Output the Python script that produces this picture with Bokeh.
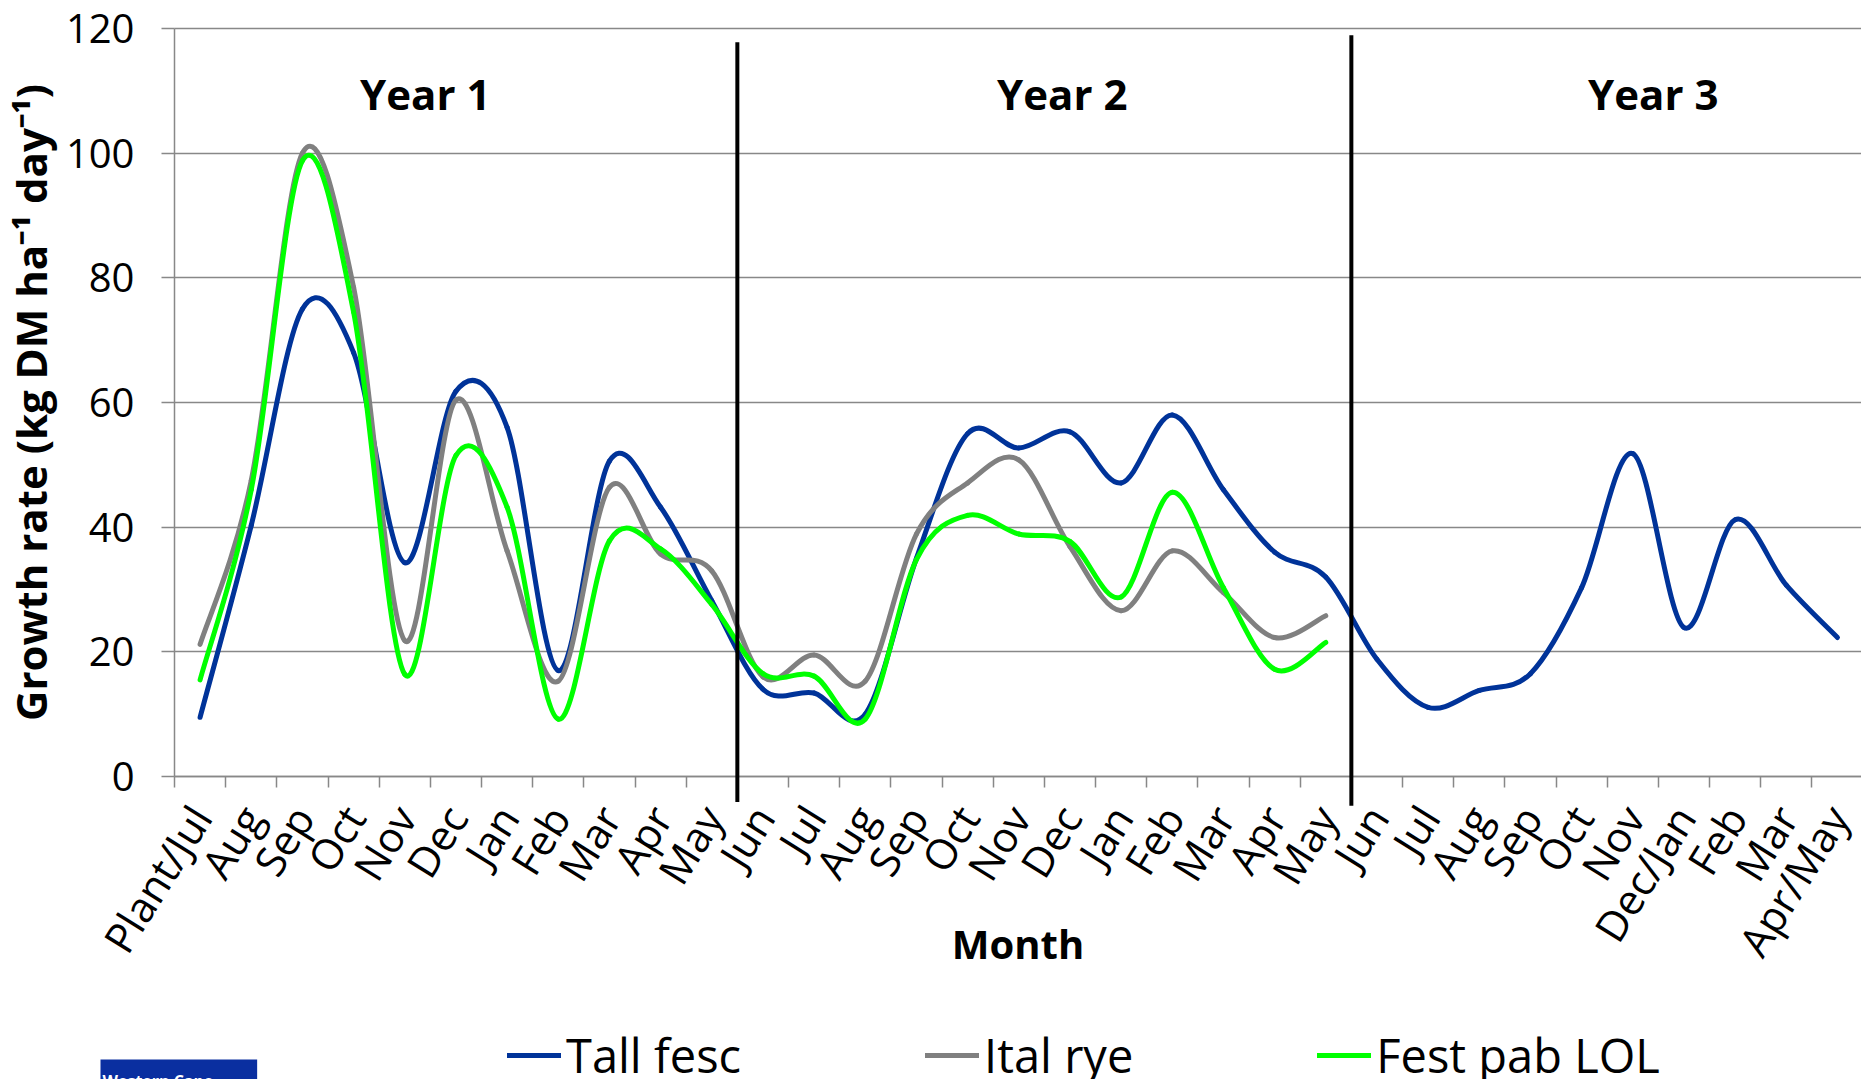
import numpy as np
from bokeh.plotting import figure
from bokeh.models import (Range1d, FixedTicker, Legend, LegendItem, Label,
                          ColumnDataSource)
from bokeh.core.properties import value
from bokeh.embed import file_html
from bokeh.resources import INLINE

# ---------------------------------------------------------------- data
months = ["Plant/Jul", "Aug", "Sep", "Oct", "Nov", "Dec", "Jan", "Feb", "Mar", "Apr", "May",
          "Jun", "Jul", "Aug", "Sep", "Oct", "Nov", "Dec", "Jan", "Feb", "Mar", "Apr", "May",
          "Jun", "Jul", "Aug", "Sep", "Oct", "Nov", "Dec/Jan", "Feb", "Mar", "Apr/May"]
year_lengths = [11, 12, 10]
year_labels = ["Year 1", "Year 2", "Year 3"]

# growth rate, kg DM/ha/day
tall_fesc = [9.5, 40.3, 75.0, 68.0, 34.3, 61.8, 56.0, 17.0, 50.6, 43.2, 28.2,
             14.0, 13.4, 10.0, 35.0, 55.0, 52.7, 55.3, 47.1, 58.0, 46.0, 36.0, 32.0,
             18.8, 11.1, 13.8, 16.5, 30.3, 51.8, 23.9, 41.2, 30.7, 22.3]
ital_rye = [21.2, 47.5, 100.0, 78.5, 21.8, 60.4, 36.2, 15.3, 46.4, 35.7, 33.0,
            16.0, 19.5, 15.3, 38.9, 47.1, 50.8, 36.9, 26.6, 36.2, 29.5, 22.3, 25.8]
fest_pab_lol = [15.5, 46.0, 98.8, 74.5, 16.4, 51.5, 43.2, 9.2, 37.8, 36.5, 27.6,
                16.5, 16.1, 9.2, 34.8, 41.9, 38.9, 37.7, 28.8, 45.6, 30.3, 17.2, 21.5]

series = [("Tall fesc", tall_fesc, "#003399"),
          ("Ital rye", ital_rye, "#808080"),
          ("Fest pab LOL", fest_pab_lol, "#00FF00")]

FONT = "Open Sans"
GRID = "#888888"

W, H = 1861, 1079
PLOT_LEFT, PLOT_TOP, PLOT_BOTTOM = 174, 28, 776   # pixel edges of the data area
Y_MAX = 120


def smooth_source(ys):
    """Cubic Bezier pieces through every point (Catmull-Rom style tangents)."""
    y = np.asarray(ys, dtype=float)
    x = np.arange(len(y), dtype=float)
    n = len(y)
    i = np.arange(n - 1)
    prev = np.maximum(i - 1, 0)
    nxt = np.minimum(i + 2, n - 1)
    return ColumnDataSource(dict(
        x0=x[i], y0=y[i], x1=x[i + 1], y1=y[i + 1],
        cx0=x[i] + (x[i + 1] - x[prev]) / 6.0,
        cy0=y[i] + (y[i + 1] - y[prev]) / 6.0,
        cx1=x[i + 1] - (x[nxt] - x[i]) / 6.0,
        cy1=y[i + 1] - (y[nxt] - y[i]) / 6.0,
    ))


n_months = len(months)
x_end = n_months - 0.53
px_per_month = (W - PLOT_LEFT) / (x_end + 0.5)
px_per_unit = (PLOT_BOTTOM - PLOT_TOP) / Y_MAX

# the frame fills the whole canvas; axes are pinned at x=-0.5 and y=0
p = figure(width=W, height=H,
           x_range=Range1d(-0.5 - PLOT_LEFT / px_per_month, x_end),
           y_range=Range1d(-(H - PLOT_BOTTOM) / px_per_unit, Y_MAX + PLOT_TOP / px_per_unit),
           output_backend="svg", toolbar_location=None,
           min_border_left=0, min_border_right=0,
           min_border_top=0, min_border_bottom=0)
p.outline_line_color = None
p.background_fill_color = "white"
p.border_fill_color = "white"

# ---------------------------------------------------------------- axes
xax = p.xaxis[0]
xax.fixed_location = 0
xax.bounds = (-0.5, n_months)
xax.ticker = FixedTicker(ticks=list(range(n_months)),
                         minor_ticks=[k - 0.5 for k in range(n_months + 1)])
xax.major_label_overrides = {k: m for k, m in enumerate(months)}
xax.major_label_orientation = np.deg2rad(58)
xax.major_tick_line_color = None
xax.major_tick_out = 0
xax.major_tick_in = 0
xax.minor_tick_out = 11
xax.minor_tick_in = 0
xax.minor_tick_line_color = GRID
xax.minor_tick_line_width = 1.5
xax.axis_line_color = GRID
xax.axis_line_width = 1.5
xax.major_label_standoff = 22
xax.major_label_text_font = FONT
xax.major_label_text_font_size = "42px"
xax.major_label_text_color = "black"
xax.axis_label = "Month"
xax.axis_label_text_font = FONT
xax.axis_label_text_font_style = "bold"
xax.axis_label_text_font_size = "40px"
xax.axis_label_text_color = "black"
xax.axis_label_standoff = -68

yax = p.yaxis[0]
yax.fixed_location = -0.5
yax.bounds = (0, Y_MAX)
yax.ticker = FixedTicker(ticks=[0, 20, 40, 60, 80, 100, 120])
yax.major_tick_out = 13
yax.major_tick_in = 0
yax.minor_tick_line_color = None
yax.major_tick_line_color = GRID
yax.major_tick_line_width = 1.5
yax.axis_line_color = GRID
yax.axis_line_width = 1.5
yax.major_label_standoff = 27
yax.major_label_text_font = FONT
yax.major_label_text_font_size = "40px"
yax.major_label_text_color = "black"
yax.axis_label = "Growth rate (kg DM ha\u207b\u00b9 day\u207b\u00b9)"
yax.axis_label_text_font = FONT
yax.axis_label_text_font_style = "bold"
yax.axis_label_text_font_size = "42px"
yax.axis_label_text_color = "black"
yax.axis_label_standoff = 4

p.xgrid.grid_line_color = None
p.ygrid.ticker = yax.ticker
p.ygrid.grid_line_color = GRID
p.ygrid.grid_line_width = 1.5
p.ygrid.cross_bounds = (-0.5, x_end)

# ---------------------------------------------------------------- curves
items = []
for name, ys, color in series:
    r = p.bezier(x0="x0", y0="y0", x1="x1", y1="y1",
                 cx0="cx0", cy0="cy0", cx1="cx1", cy1="cy1",
                 source=smooth_source(ys), line_color=color, line_width=5,
                 line_cap="round", line_join="round")
    items.append(LegendItem(label=name, renderers=[r]))

# ---------------------------------------------------------------- year dividers
bounds = np.cumsum(year_lengths)[:-1] - 0.5
p.segment(x0=bounds, x1=bounds, y0=[-4.1, -4.7], y1=[117.8, 118.9],
          line_color="black", line_width=4, level="overlay")

p.text(x=[4.4, 16.85, 28.4], y=[109.5] * 3, text=year_labels,
       text_font=value(FONT), text_font_style="bold", text_font_size="42px",
       text_align="center", text_baseline="middle", text_color="black")

# ---------------------------------------------------------------- legend
legend = Legend(items=items, location=(507, -8), orientation="horizontal",
                spacing=184, glyph_width=54, glyph_height=64, label_height=64,
                label_standoff=5, padding=0, margin=0,
                border_line_color=None, background_fill_alpha=0,
                label_text_font=FONT, label_text_font_size="47px",
                label_text_color="black")
p.add_layout(legend)

# ---------------------------------------------------------------- badge
# padding order: top, right, bottom, left
badge = Label(x=100, y=20, x_units="screen", y_units="screen",
              text="Western Cape", text_font=FONT, text_font_style="bold",
              text_font_size="16px", text_color="white", text_baseline="top",
              background_fill_color="#0a2fa0", padding=(2, 44, 10, 10))
p.add_layout(badge)

open("out.html", "w").write(file_html(p, INLINE))
